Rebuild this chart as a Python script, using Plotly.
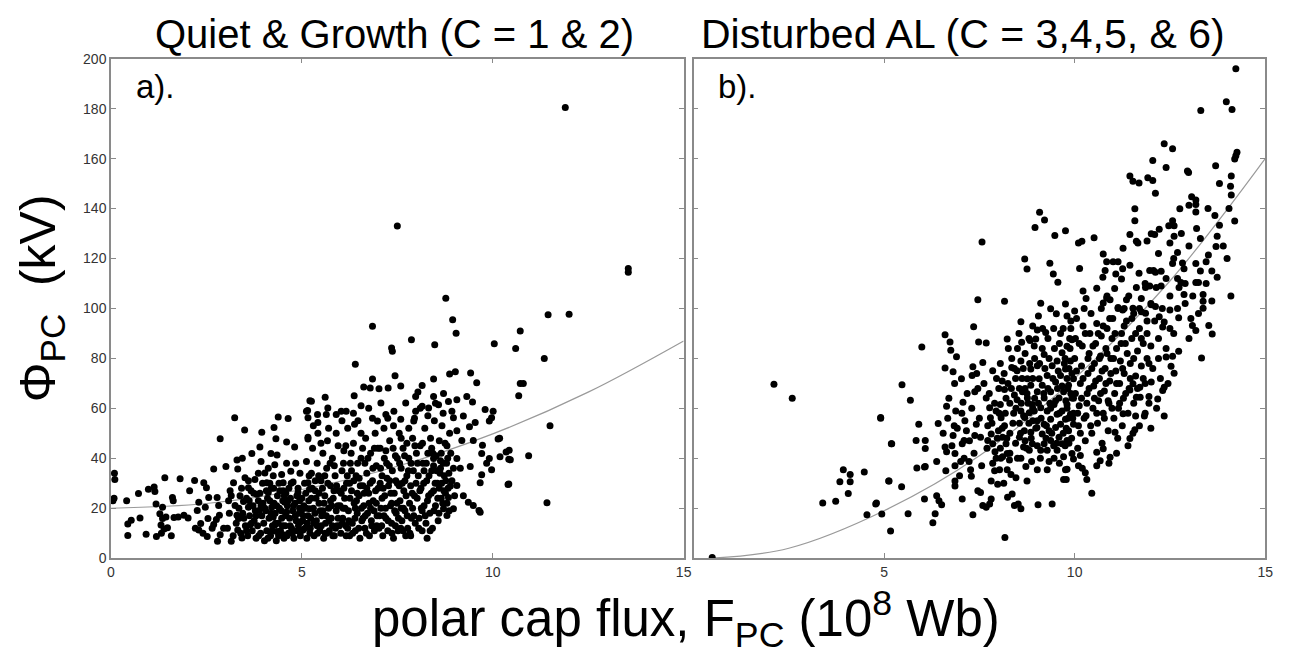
import plotly.graph_objects as go

# ---------------- Panel a: Quiet & Growth (C = 1 & 2) ----------------
a_edge = [(0.09, 34), (0.1, 31.5), (0.05, 23), (0.08, 24)]

a_low = [(0.41,23.0),(0.72,25.9),(0.44,13.7),(0.53,15.2),(0.76,16.1),(0.44,9.1),(0.92,9.6),(0.98,27.6),
 (1.13,28.5),(1.15,26.7),(1.41,32.2),(1.18,21.7),(1.35,20.4),(1.28,17.8),(1.35,15.9),(1.44,16.5),(1.31,13.3),
 (1.39,11.7),(1.19,8.7),(1.32,10),(1.58,9),(1.48,12.2),(1.65,16.3),(1.76,16.5),(1.91,17.2),(2.02,16.1),
 (1.61,24.3),(1.63,23),(1.81,31.8),(2.06,27),(2.19,31.1),(2.3,22.4),(2.26,19.1),(2.21,12),(2.3,11.3),
 (2.35,13.9),(2.43,30.2),(2.5,28.2),(2.56,24.3),(2.47,20.4),(2.54,15.9),(2.41,10),(2.52,8.7),(2.65,12),
 (2.69,13.5),(2.76,15.5),(2.78,24.3),(2.82,21.1),(2.84,17.2),(2.79,6.8),(2.86,47.8),(2.69,35.7),(3.01,36.7),
 (2.86,9.4),(2.95,12),(3.12,27),(3.08,23),(3.15,6.8),(3.24,56.2),(3.3,39.3),(3.32,35.7),(3.21,30.2),
 (3.25,21.1),(3.3,17.2),(3.34,15.9),(3.32,11.3),(3.43,8.1),(3.5,51.3),(3.44,40),(3.51,32.2),(3.6,28.2),
 (3.47,22.7),(3.6,20.4),(3.64,13.3),(3.69,41.9),(3.77,31.5),(3.82,25.6),(3.86,23),(3.88,19.1),(3.95,50.4),
 (3.9,44.5),(3.93,38.7),(4.03,34.1),(4.08,30.2),(4.12,26.3),(4.16,23),(4.21,20.4),(4.25,16.5),(4.29,13.3),
 (4.34,10.7),(4.38,56.5),(4.27,52.3),(4.32,47.8),(4.19,41.9),(4.29,37.4),(4.35,41.3),(4.47,33.5),(4.51,30.2),
 (4.51,27),(4.55,22.4),(4.6,18.5),(4.51,9.4),(4.64,55.9),(4.6,46.5),(4.71,34.8),(4.77,30.5),(4.81,44.5),
 (4.84,38),(4.9,26.3),(4.94,23),(4.99,19.1),(4.97,14.6),(5.03,11.3),(5.12,58.8),(5.16,56.2),(5.16,48.4),
 (5.12,38.7),(5.16,30.2),(5.2,27.6),(5.2,19.8),(5.25,62.8)]

a_low_dense = [(3.38,25),(3.45,18),(3.52,13),(3.55,24),(3.58,9),(3.63,17),(3.67,27),(3.7,11),(3.72,21),
 (3.75,15),(3.8,8),(3.84,13),(3.9,26),(3.92,10),(3.95,17),(3.98,22),(4.0,14),(4.02,7),(4.05,19),(4.08,11),
 (4.1,24),(4.14,16),(4.18,9),(4.2,28),(4.23,13),(4.27,22),(4.3,18),(4.33,7),(4.36,25),(4.38,14),(4.41,20),
 (4.44,11),(4.47,16),(4.5,23),(4.53,8),(4.56,13),(4.58,26),(4.62,21),(4.65,10),(4.68,16),(4.7,24),(4.73,12),
 (4.76,19),(4.79,8),(4.82,22),(4.85,15),(4.88,11),(4.9,28),(4.93,18),(4.96,9),(5.0,24),(5.02,15),(5.05,21),
 (5.08,12),(5.1,26),(5.13,8),(5.16,17),(5.18,23),(5.21,10),(3.4,10),(3.6,31),(3.86,34),(4.12,36),(4.4,30),
 (4.66,28),(4.95,34),(3.78,19),(4.25,33),(4.6,38)]

a_body = [(5.22,12),(5.25,34),(5.28,44),(5.3,20),(5.32,9),(5.35,27),(5.38,15),(5.4,38),(5.42,50),(5.45,22),
 (5.47,11),(5.5,31),(5.52,17),(5.55,42),(5.57,8),(5.6,25),(5.62,14),(5.65,36),(5.67,47),(5.7,20),(5.72,11),
 (5.75,29),(5.77,16),(5.8,40),(5.82,24),(5.85,9),(5.87,33),(5.9,19),(5.92,13),(5.95,45),(5.97,27),(6.0,21),
 (5.3,53),(5.5,46),(5.7,52),(5.9,50),(5.35,31),(5.6,33),(5.85,37),(5.45,26),(5.75,23),(5.55,19),(5.25,24),
 (5.8,13),(5.65,10),(5.4,13),(5.95,16),
 (6.02,10),(6.05,35),(6.07,16),(6.1,43),(6.12,24),(6.15,13),(6.17,30),(6.2,52),(6.22,19),(6.25,9),(6.27,38),
 (6.3,27),(6.32,14),(6.35,46),(6.37,22),(6.4,11),(6.42,33),(6.45,18),(6.47,55),(6.5,25),(6.52,8),(6.55,40),
 (6.57,15),(6.6,29),(6.62,21),(6.65,12),(6.67,48),(6.7,34),(6.72,18),(6.75,26),(6.77,9),(6.8,42),(6.82,15),
 (6.85,31),(6.87,23),(6.9,11),(6.92,50),(6.95,37),(6.97,17),(7.0,28),(6.1,28),(6.3,35),(6.5,32),(6.7,28),
 (6.9,44),(6.2,12),(6.4,20),(6.6,16),(6.8,20),(6.15,45),(6.55,50),(6.85,56),(6.05,55),(6.35,58),(6.75,60),
 (6.25,30),(6.45,26),(6.65,38),(6.95,22),(6.08,20),
 (7.02,12),(7.05,44),(7.07,20),(7.1,33),(7.12,9),(7.15,52),(7.17,25),(7.2,16),(7.22,38),(7.25,11),(7.27,29),
 (7.3,47),(7.32,21),(7.35,14),(7.37,35),(7.4,8),(7.42,26),(7.45,41),(7.47,18),(7.5,30),(7.52,11),(7.55,50),
 (7.57,23),(7.6,36),(7.62,15),(7.65,44),(7.67,27),(7.7,19),(7.72,9),(7.75,33),(7.77,12),(7.8,40),(7.82,22),
 (7.85,29),(7.87,16),(7.9,48),(7.92,35),(7.95,25),(7.97,14),(8.0,42),(7.1,24),(7.3,31),(7.5,40),(7.7,31),
 (7.9,20),(7.2,43),(7.4,53),(7.6,48),(7.8,52),(7.15,17),(7.45,13),(7.65,11),(7.85,9),(7.25,56),(7.55,29),
 (7.75,46),(7.35,22),(7.95,56),(7.05,30),(7.6,20),
 (8.02,24),(8.05,33),(8.07,16),(8.1,45),(8.12,28),(8.15,11),(8.17,38),(8.2,21),(8.22,52),(8.25,14),(8.27,31),
 (8.3,42),(8.32,25),(8.35,18),(8.37,48),(8.4,35),(8.42,12),(8.45,27),(8.47,55),(8.5,21),(8.52,41),(8.55,30),
 (8.57,15),(8.6,47),(8.62,34),(8.65,24),(8.67,53),(8.7,38),(8.72,27),(8.75,46),(8.77,31),(8.8,22),(8.82,40),
 (8.85,34),(8.87,50),(8.1,60),(8.3,57),(8.5,62),(8.7,58),(8.2,35),(8.4,44),(8.6,28),(8.8,45),(8.15,19),
 (8.45,37),(8.65,42)]

a_fill = [(3.05,12),(3.1,18),(3.15,25),(3.2,9),(3.28,14),(3.35,20),(3.42,28),(3.48,16),(3.55,11),(3.62,23),
 (3.68,14),(3.74,26),(3.8,17),(3.87,9),(3.93,21),(3.97,30),
 (4.03,20),(4.07,27),(4.11,8),(4.16,30),(4.19,18),(4.22,11),(4.26,28),(4.31,14),(4.34,21),(4.39,9),(4.42,27),
 (4.46,19),(4.49,13),(4.54,25),(4.57,17),(4.61,9),(4.64,23),(4.69,13),(4.72,30),(4.75,10),(4.78,21),(4.83,17),
 (4.87,25),(4.91,13),(4.94,20),(4.98,11),
 (5.04,17),(5.07,30),(5.11,20),(5.14,14),(5.19,33),(5.23,16),(5.27,28),(5.31,14),(5.34,18),(5.37,24),(5.41,10),
 (5.44,33),(5.48,19),(5.51,13),(5.54,28),(5.58,22),(5.61,10),(5.64,17),(5.68,30),(5.71,15),(5.74,38),(5.78,21),
 (5.81,9),(5.84,27),(5.88,12),(5.91,29),(5.94,21),(5.98,13),
 (6.03,26),(6.06,14),(6.09,38),(6.13,20),(6.16,9),(6.19,33),(6.23,15),(6.26,24),(6.29,42),(6.33,10),(6.36,31),
 (6.39,16),(6.43,23),(6.46,38),(6.49,12),(6.53,29),(6.56,20),(6.59,44),(6.63,26),(6.66,17),(6.69,10),(6.73,40),
 (6.76,22),(6.79,30),(6.83,13),(6.86,36),(6.89,19),(6.93,27),(6.96,13),(6.99,44),
 (7.03,17),(7.06,36),(7.09,13),(7.13,28),(7.16,40),(7.19,20),(7.23,32),(7.26,15),(7.29,37),(7.33,26),(7.36,10),
 (7.39,44),(7.43,19),(7.46,31),(7.49,22),(7.53,16),(7.56,38),(7.59,12),(7.63,30),(7.66,20),(7.69,41),(7.73,25),
 (7.76,17),(7.79,35),(7.83,10),(7.86,38),(7.89,26),(7.93,17),(7.96,45),(7.99,30),
 (8.03,38),(8.06,12),(8.09,27),(8.13,20),(8.16,46),(8.19,30),(8.23,17),(8.26,38),(8.29,23),(8.33,33),(8.36,11),
 (8.39,26),(8.43,42),(8.46,19),(8.49,30),(8.53,35),(8.56,24),(8.59,18),(8.63,39),(8.66,30),(8.69,22),(8.73,33),
 (8.76,26),(8.79,38),(8.83,28),(8.86,19),(8.9,42),(8.93,31),(8.97,36),(9.0,25)]

a_upper = [(8.77,104.1),(8.95,95.5),(9.04,90.1),(6.85,92.9),(7.87,87.5),(8.48,85.5),(10.04,85.9),(7.35,84.2),
 (7.37,82.9),(6.4,77.7),(7.44,73.1),(6.85,71.8),(6.62,68.6),(6.79,68.2),(7.02,67.9),(7.26,68.2),(7.59,69),
 (8.15,69.2),(8.45,71.8),(8.87,73.8),(9.02,74.7),(9.42,74.2),(9.58,70.3),(6.37,65.1),(5.61,64.4),(5.21,63),
 (6.55,61),(7.07,62.1),(7.98,64.7),(8.04,66.6),(7.72,62.1),(8.45,64.7),(8.58,61.4),(8.71,66),(8.84,62.7),
 (9.06,63.4),(9.32,64.7),(9.47,62.5),(9.8,59.5),(10.01,58.8),(5.15,59.1),(5.41,57.5),(5.64,57.5),(5.9,57.5),
 (6.03,58.8),(6.16,58.8),(5.68,60.1),(7.41,58.8),(7.2,57.5),(8.15,60.8),(8.32,60.1),(7.98,58.8),(8.93,58.8),
 (9.23,56.9),(8.97,56.2),(9.97,56.2),(10.14,47.7),(9.91,54.9),(5.16,47.7),(5.42,54.3),(6.38,53.6),(6.98,54.9),
 (7.59,55.6),(7.93,54.9),(9.54,54.3),(9.39,52.6),(9.06,51),(9.19,47.1),(9.49,47.1),(9.73,45.2),(9.71,41.9),
 (9.84,38),(9.71,33.4),(9.67,30.2),(9.91,39.9),(9.97,35.4),(10.43,43.2),(10.4,29.5),(10.19,40.6),(9.15,36),
 (9.41,36.7),(8.89,28.9),(9.06,29.1),(9.23,25),(9.36,22.4),(9.49,21.1),(9.64,19.1),(9.67,18.4),(8.84,24.3),
 (8.97,19.8),(8.71,19.8),(8.8,17.1),(8.28,8),(8.63,36),(8.45,39.9),(9.06,39.9)]

a_outliers = [(11.9,180.5),(7.5,133),(13.55,116),(13.55,114.5),(11.45,97.5),(12.0,97.7),(10.72,91),(10.6,84),
 (11.35,80),(10.72,70),(10.8,70),(10.68,65),(11.5,53),(10.18,48),(10.35,42.5),(10.42,39.6),(10.46,39.4),
 (10.94,41),(10.42,29.7),(11.42,22.2)]

# fitted curve
curve_a_x = [0, 2.5, 5, 7.5, 10, 12.5, 15]
curve_a_y = [20, 21.9, 27.5, 36.8, 49.8, 66.5, 87]

# ---------------- Panel b: Disturbed AL (C = 3,4,5, & 6) ----------------
b_low = [(0.49,0.3),(2.11,69.7),(2.59,64),(4.91,56),(5.19,45.8),(5.12,30.9),(3.93,35.4),(4.11,33.5),
 (3.84,30.6),(4.11,30.6),(4.48,34.5),(4.06,25.9),(3.73,22.8),(3.39,22.1),(4.8,22.1),(4.55,17.4),(4.94,17.7),
 (5.17,10.9),(5.13,30.9),(5.46,28.6),(4.78,21.7),(5.63,17.8),(6.06,23.7),(6.28,14.2),(6.34,17.8),(6.38,25),
 (6.44,23),(6.51,21.4),(6.08,36.7),(5.86,36.1)]

b_mid = [(9.08,138.5),(9.21,135.4),(8.96,132.4),(9.48,129.2),(9.76,131.1),(7.57,126.6),(8.69,119.8),
 (8.75,115.8),(9.35,118.1),(9.44,113.8),(9.56,110.5),(7.46,103.5),(8.16,102.9),(9.11,102.1),(9.37,99.9),
 (9.52,97.9),(9.76,101.8),(8.59,94.7),(7.35,92.7),(6.6,89.5),(6.73,86.6),(7.48,86.6),(7.68,86.2),(8.23,87.8),
 (8.61,86.5),(8.83,87.2),(8.98,87.8),(9.02,91.4),(9.24,90.4),(5.99,84.6),(6.75,83.3),(6.9,80.7),(6.6,76.2),
 (6.81,74.7),(7.03,71.9),(7.33,76.7),(7.31,73.2),(7.59,78.4),(7.85,75.1),(8.35,76.4),(8.49,75.1),(5.47,69.5),
 (5.69,63.2),(4.91,56.3),(5.2,45.8),(5.91,53.6),(5.84,47.1),(6.08,47.1),(6.08,43.9),(6.06,36.5),(6.38,38.7),
 (6.42,53.9),(6.64,60.8),(6.67,56),(6.88,58.9),(6.84,53),(6.6,44.5),(6.64,42.6),(6.81,49.1),(6.86,41.9),
 (6.86,37),(7.07,62.4),(7.12,55),(7.16,51),(7.05,45.8),(7.1,47.1),(7.01,38.7),(7.23,38.7),(7.27,35.4),
 (7.29,32.8),(6.86,30.9),(6.86,28.9),(7.38,66.7),(7.42,53.6),(7.38,49.1),(7.53,48.4),(7.46,68),(7.68,64.1),
 (7.77,60.2),(7.79,56.2),(7.72,53),(7.81,49.7),(7.72,47.1),(7.85,45.8),(7.91,42.6),(7.85,38),(7.94,40),
 (7.81,30.9),(7.46,27),(7.53,26.3),(7.59,21.1),(7.68,20.4),(7.77,21.7),(7.81,23.7),(7.05,23.7),(7.33,17.4),
 (8.01,68),(8.16,67.6),(8.05,61.5),(7.94,58.9),(8.07,56.2),(8.16,53),(8.0,51),(8.11,48.4),(8.2,45.8),
 (8.23,41.9),(8.11,40.6),(8.29,39.3),(8.03,35.4),(8.23,35.4),(8.33,33.5),(8.46,32.2),(8.17,8.3),(7.98,29.6),
 (8.24,24.4),(8.36,25.7),(8.42,21.1),(8.52,21.7),(8.59,19.8),(8.42,65.4),(8.49,63.4),(8.63,66.7),(8.76,71.9),
 (8.85,75.8),(9.02,77.1),(9.2,81.6),(8.59,79),(8.59,58.9),(8.69,56.3),(8.81,58.2),(8.68,51),(8.55,48.4),
 (8.85,50.4),(8.66,44.5),(8.81,43.2),(8.59,40),(8.72,36.7),(8.87,38.7),(8.75,30.9),(9.02,35.4),(9.04,21.4),
 (9.41,21.7),(9.28,35.4),(9.33,38.7),(9.46,40),(9.76,35.4),(9.78,31.5),(9.71,40.6),(9.93,41.9),(9.11,43.2),
 (9.2,45.8),(9.37,47.1),(9.59,48.4),(9.8,47.1)]

b_mid_dense = [(9.07,71.9),(9.15,69.3),(9.28,73.2),(9.41,77.1),(9.54,79),(9.67,82.3),(9.8,84.9),(9.93,87.5),
 (9.02,66.7),(9.2,64.1),(9.37,66.7),(9.5,70.6),(9.63,73.2),(9.76,75.8),(9.89,79),(9.11,60.2),(9.28,58.9),
 (9.46,61.5),(9.59,64.1),(9.71,66.7),(9.84,69.3),(9.97,71.9),(9.02,55),(9.2,53.6),(9.37,55.6),(9.54,57.6),
 (9.67,58.9),(9.8,61.5),(9.93,64.1),(9.15,49.7),(9.33,51),(9.5,52.3),(9.63,53.6),(9.76,55.6),(9.89,57.6),
 (9.28,43.2),(9.54,43.2),(9.67,45.8),(9.84,51),(9.97,53.6),(8.76,64.1),(8.89,61.5),(8.85,69.3),(8.94,58.9),
 (9.01,52.3),(8.89,45.8),(7.95,72),(8.05,78),(8.15,74),(8.25,70),(8.3,62),(8.4,58),(8.45,72),(8.55,68),
 (8.6,62),(8.65,76),(8.7,82),(8.75,66),(8.8,54),(8.9,72),(8.95,80),(8.3,50),(8.45,46),(8.55,54),(8.7,47),
 (8.9,55),(8.95,64),(8.2,64),(8.05,44),(7.9,62),(8.1,52),(8.35,80),(8.5,84),(8.8,88),(8.9,93),(9.05,97),
 (9.15,84),(9.3,88),(9.45,92),(9.6,86),(9.7,92),(9.75,80),(9.9,95),(9.35,62),(9.55,68),(9.25,48),(9.45,45),
 (9.1,40),(9.6,38),(9.85,46)]

b_fill = [(6.55,50),(6.62,35),(6.7,64),(6.78,45),(6.85,70),(6.92,52),(6.98,33),(7.04,58),(7.1,40),(7.18,66),
 (7.24,47),(7.3,60),(7.36,42),(7.43,74),(7.5,56),(7.56,37),(7.62,70),(7.7,44),(7.76,66),(7.83,54),(7.9,35),(7.97,48),
 (8.02,58),(8.06,40),(8.1,71),(8.14,30),(8.18,58),(8.22,48),(8.26,84),(8.3,42),(8.34,68),(8.38,54),(8.42,76),
 (8.46,60),(8.5,40),(8.54,90),(8.58,50),(8.62,72),(8.66,57),(8.7,68),(8.74,44),(8.78,62),(8.82,78),(8.86,48),
 (8.9,60),(8.94,85),(8.98,52),
 (9.02,45),(9.05,62),(9.08,78),(9.12,56),(9.16,92),(9.19,66),(9.22,76),(9.26,53),(9.3,68),(9.33,80),(9.37,60),
 (9.4,50),(9.43,72),(9.47,84),(9.5,63),(9.53,46),(9.57,75),(9.6,58),(9.63,90),(9.67,69),(9.7,50),(9.73,78),
 (9.77,63),(9.8,72),(9.83,56),(9.87,88),(9.9,66),(9.93,74),(9.97,58),
 (10.02,66),(10.05,75),(10.08,58),(10.12,86),(10.15,50),(10.18,64),(10.22,72),(10.25,56),(10.28,90),(10.32,62),
 (10.35,80),(10.38,68),(10.42,53),(10.45,76),(10.48,85),(10.52,64),(10.55,71),(10.58,58),(10.62,90),(10.65,80),
 (10.68,66),(10.72,75),(10.75,93),(10.78,56),(10.82,70),(10.85,82),(10.88,63),(10.92,96),(10.95,74),(10.98,60),
 (11.02,80),(11.06,90),(11.1,70),(11.14,100),(11.18,62),(11.22,86),(11.26,76),(11.3,93),(11.34,66),(11.38,82),
 (11.42,105),(11.46,72),(11.5,96),(11.55,80),(11.6,90),(11.65,68),(11.7,100),(11.75,88),(11.8,72),(11.85,110),
 (11.9,90),(11.95,78),(12.0,102),(12.1,95),(12.2,80),(12.3,100),(12.4,112),(12.5,92),
 (12.6,120),(12.7,100),(12.8,130),(12.9,110),(13.0,125),(13.1,105),(13.2,132),(13.3,115),(13.5,140),(13.6,115),
 (13.8,150),(14.0,120),(14.1,105),(14.2,135)]

b_high = [(14.23,196),(13.98,182.8),(14.13,179.7),(13.31,179.3),(14.23,161.2),(14.26,162.6),(14.2,159.8),
 (12.35,166),(12.57,164),(12.05,159.2),(12.4,156.4),(12.96,155),(12.99,154.4),(13.7,157.1),(11.45,153),
 (11.53,150.9),(11.69,150.2),(11.92,152.3),(12.05,151.2),(12.12,146.1),(14.11,153),(14.09,148.9),(14.11,145.4),
 (13.07,144.7),(13.18,143.4),(13.0,141.3),(13.18,141.6),(13.18,138.6),(12.76,139.9),(11.58,139.9),(11.58,135.1),
 (13.68,137.2),(13.8,133.3),(12.57,135.1),(12.61,133.1),(12.47,133.1),(12.22,131.7),(12.01,129.9),(12.1,129.6),
 (13.74,128.9),(11.45,129.6),(11.62,126.9),(11.66,126.2),(11.27,124.1),(10.1,126.2),(10.19,126.9),(10.51,128.3),
 (12.61,128.9),(12.5,126.2),(12.7,122.4),(13.51,121.4),(13.71,124.8),(10.75,121.8),(11.01,118.7),(11.14,118.7),
 (10.84,118.7),(10.8,115.2),(10.74,112.5),(11.08,113.8),(11.26,115.9),(11.45,117.3),(11.69,114.1),(11.97,115.2),
 (12.07,115.2),(12.12,114.5),(12.27,114.9),(12.57,118),(12.83,118.2),(12.87,115.9),(13.18,118),(13.45,118.7),
 (13.74,112.5),(13.18,110.4),(13.25,110.4),(12.79,110.4),(12.74,108.4),(12.87,105.6),(11.62,108.4),(11.86,108.4),
 (11.97,109),(12.14,108.4),(12.27,109),(10.22,107),(10.58,108.1),(11.23,111.8),(10.84,104.2),(10.93,103.5),
 (10.75,102.2),(11.36,103.5),(11.14,100.4),(11.26,99.4),(11.53,100.1),(11.75,98.7),(11.86,98.1),(12.01,101.5),
 (12.12,100.8),(12.22,96.7),(12.5,99.4),(12.35,94.6),(12.31,92.6),(12.73,96.3),(13.05,96),(13.09,93.2),
 (13.18,91.2),(13.37,105.6),(13.37,102.9),(13.37,100.1),(13.52,93.2),(13.61,89.8),(13.33,80.2),(12.57,80.9),
 (12.53,76.9),(12.61,74.1),(12.73,82.9),(12.4,80.6),(12.31,67.2),(12.35,68.5),(12.18,63.7),(12.35,56.9),
 (12.01,70.6),(11.71,68.5),(11.53,69.9),(11.45,67.4),(11.62,64.4),(11.72,64.4),(11.95,64.7),(11.83,56.9),
 (11.6,56.9),(11.58,51.4),(11.53,50),(11.45,47.9),(11.06,50.4),(11.27,57.8),(10.13,116)]

b_high_dense = [(9.71,31.5),(9.8,35.6),(9.97,39.7),(10.15,41.1),(10.1,37),(10.28,34.2),(10.32,31.5),(10.45,26),
 (10.58,37),(10.67,39),(10.93,40.4),(10.58,42.4),(10.75,43.8),
 (9.75,45),(9.78,52),(9.8,60),(9.82,68),(9.85,76),(9.88,84),(9.9,92),(9.92,48),(9.95,56),(9.97,64),(10.0,80),
 (10.02,88),(10.05,96),(10.08,44),(10.1,53),(10.12,61),(10.15,70),(10.18,77),(10.2,85),(10.22,93),(10.25,100),
 (10.28,47),(10.3,57),(10.33,66),(10.35,74),(10.38,82),(10.4,90),(10.43,98),(10.45,50),(10.48,60),(10.5,69),
 (10.52,78),(10.55,86),(10.58,94),(10.6,54),(10.63,63),(10.65,72),(10.68,81),(10.7,89),(10.72,46),(10.75,58),
 (10.78,67),(10.8,76),(10.82,84),(10.85,92),(10.88,51),(10.9,62),(10.92,71),(10.95,80),(10.98,88),(11.0,96),
 (11.03,56),(11.05,66),(11.08,75),(11.1,84),(11.13,48),(11.15,60),(11.18,70),(11.2,79),(11.23,90),(11.25,53),
 (11.28,64),(11.3,74),(11.33,86),(11.36,95),(11.4,58),(11.43,68),(11.46,78),(11.5,88),(11.55,62),(11.6,73),
 (11.65,83),(11.7,92),(11.75,77),(11.8,86),(11.85,70),(11.9,80),(12.0,85),(12.05,76),(11.95,62),(11.4,45),
 (11.1,42),(10.9,38),(10.2,36),(11.7,53),(11.85,58),(12.0,52),(12.15,60),(12.25,72),(12.4,84),(12.45,70),
 (12.6,90),(11.3,100),(11.55,98),(10.7,100),(10.3,104),(10.0,99),(9.8,97),(10.85,105),(11.05,108),(11.75,104),
 (11.9,95),(12.2,88),(12.5,105),(12.9,102),(13.0,88),(13.25,98),(13.45,110),(13.6,103),(13.9,125),(14.05,140),
 (12.7,112),(12.2,122),(11.9,127),(13.3,128)]

# fitted curve
curve_b_x = [0.5, 2.5, 5, 7.5, 10, 12.5, 15]
curve_b_y = [0, 4, 19, 41, 72, 111, 160]

x_ticks_a = [0, 5, 10, 15]
x_ticks_b = [5, 10, 15]
y_ticks = [0, 20, 40, 60, 80, 100, 120, 140, 160, 180, 200]

pts_a = a_edge + a_low + a_low_dense + a_body + a_fill + a_upper + a_outliers
pts_b = b_low + b_mid + b_mid_dense + b_fill + b_high + b_high_dense

FONT = "Liberation Sans, Arial, sans-serif"
FRAME = "#8a8a8a"
MS = 7

fig = go.Figure()
fig.add_trace(go.Scatter(x=curve_a_x, y=curve_a_y, mode="lines", line=dict(color="#9a9a9a", width=1.2, shape="spline"),
                         xaxis="x", yaxis="y", hoverinfo="skip"))
fig.add_trace(go.Scatter(x=[p[0] for p in pts_a], y=[p[1] for p in pts_a], mode="markers",
                         marker=dict(color="black", size=MS), xaxis="x", yaxis="y"))
fig.add_trace(go.Scatter(x=curve_b_x, y=curve_b_y, mode="lines", line=dict(color="#9a9a9a", width=1.2, shape="spline"),
                         xaxis="x2", yaxis="y2", hoverinfo="skip"))
fig.add_trace(go.Scatter(x=[p[0] for p in pts_b], y=[p[1] for p in pts_b], mode="markers",
                         marker=dict(color="black", size=MS), xaxis="x2", yaxis="y2"))

W, H = 1293, 654
dom_a = [108 / W, 686 / W]
dom_b = [696 / W, 1273 / W]
dom_y = [1 - 564 / H, 1 - 52 / H]

axis_common = dict(showgrid=False, zeroline=False, showline=True, linecolor=FRAME, linewidth=1.5,
                   mirror="allticks", ticks="inside", ticklen=5, tickcolor=FRAME, tickwidth=1,
                   tickfont=dict(family=FONT, size=14, color="#333333"))

fig.update_layout(
    width=W, height=H, margin=dict(l=0, r=0, t=0, b=0),
    paper_bgcolor="white", plot_bgcolor="white", showlegend=False,
    xaxis=dict(domain=dom_a, range=[0, 15], tickvals=x_ticks_a, anchor="y", **axis_common),
    yaxis=dict(domain=dom_y, range=[0, 200], tickvals=y_ticks, anchor="x", **axis_common),
    xaxis2=dict(domain=dom_b, range=[0, 15], tickvals=x_ticks_b, anchor="y2", **axis_common),
    yaxis2=dict(domain=dom_y, range=[0, 200], tickvals=y_ticks, anchor="x2", showticklabels=False, **axis_common),
    annotations=[
        dict(text="Quiet &amp; Growth (C = 1 &amp; 2)", xref="paper", yref="paper",
             x=394 / W, y=1 - 27 / H, xanchor="center", yanchor="middle", showarrow=False,
             font=dict(family=FONT, size=40, color="black")),
        dict(text="Disturbed AL (C = 3,4,5, &amp; 6)", xref="paper", yref="paper",
             x=968 / W, y=1 - 27 / H, xanchor="center", yanchor="middle", showarrow=False,
             font=dict(family=FONT, size=41, color="black")),
        dict(text="a).", xref="x", yref="y", x=0.6, y=189, xanchor="left", yanchor="middle", showarrow=False,
             font=dict(family=FONT, size=33, color="black")),
        dict(text="b).", xref="x2", yref="y2", x=0.6, y=189, xanchor="left", yanchor="middle", showarrow=False,
             font=dict(family=FONT, size=33, color="black")),
        dict(text="Φ<sub>PC</sub>  (kV)", xref="paper", yref="paper", x=38 / W, y=1 - 298 / H,
             xanchor="center", yanchor="middle", textangle=-90, showarrow=False,
             font=dict(family=FONT, size=50, color="black")),
        dict(text="polar cap flux, F<sub>PC</sub> (10<sup>8</sup> Wb)", xref="paper", yref="paper",
             x=688 / W, y=1 - 626 / H, xanchor="center", yanchor="middle", showarrow=False,
             font=dict(family=FONT, size=51, color="black")),
    ],
)

fig.write_html("out.html")
